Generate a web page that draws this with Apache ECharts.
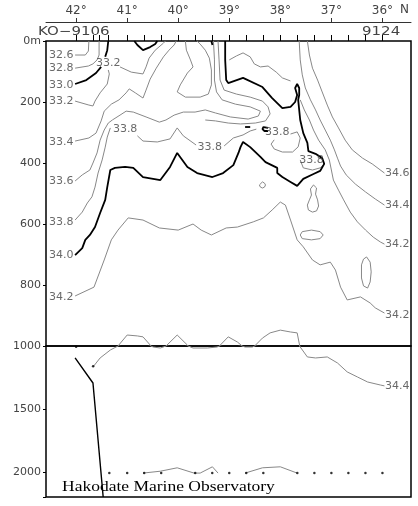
<!DOCTYPE html>
<html><head><meta charset="utf-8">
<script src="https://cdn.jsdelivr.net/npm/echarts@6/dist/echarts.min.js"></script>
<style>html,body{margin:0;padding:0;background:#fff}#c{width:418px;height:506px}</style>
</head><body><div id="c"></div>
<script>
// ---- axes ----
const latMin = 35.44, latMax = 42.59;
const degreeTicks = [42, 41, 40, 39, 38, 37, 36];
const stationLat = [42.0, 41.667, 41.55, 41.37, 41.0, 40.667, 40.333, 40.0, 39.667, 39.333, 39.0, 38.667, 38.333, 38.0, 37.667, 37.333, 37.0, 36.667, 36.333, 36.0];

// ---- contours [lat, depth m] ----
const s326 = [[42.02,46],[41.82,46],[41.76,33],[41.75,0]];
const s328 = [[42.02,89],[41.76,82],[41.67,75],[41.59,62],[41.55,46],[41.55,0]];
const s330a = [[42.02,141],[41.80,128],[41.61,105],[41.51,85]];
const s330b = [[41.43,52],[41.39,30],[41.37,0]];
const s330cap = [[40.86,0],[40.80,13],[40.69,30],[40.55,20],[40.45,10],[40.41,0]];
const s330dash = [[39.35,0],[39.33,13]];
const s332a = [[42.02,197],[41.75,210],[41.67,213],[41.63,197],[41.53,170],[41.39,141],[41.35,108],[41.37,95]];
const s332b = [[41.14,85],[40.92,102],[40.69,108],[40.63,85],[40.57,56],[40.45,30],[40.29,7],[40.25,0]];
const s334 = [[42.02,328],[41.75,318],[41.61,302],[41.51,262],[41.45,230],[41.31,207],[41.16,193],[41.02,170],[40.96,157],[40.84,170],[40.69,187],[40.63,161],[40.55,125],[40.43,89],[40.29,52],[40.18,30],[40.08,13],[40.04,0]];
const s336 = [[42.02,459],[41.88,439],[41.73,423],[41.67,400],[41.59,367],[41.53,325],[41.45,292],[41.37,269],[41.29,259],[41.14,243],[41.02,230],[40.88,233],[40.63,249],[40.37,266],[40.24,259],[40.08,243],[39.90,233],[39.67,233],[39.47,226],[39.27,236],[38.98,249],[38.63,256],[38.43,246],[38.39,230],[38.59,216],[38.88,207],[39.14,193],[39.25,167],[39.29,128],[39.29,62],[39.31,0]];
const sM1 = [[39.86,0],[39.84,30],[39.76,62],[39.71,85],[39.82,105],[39.96,144],[40.02,167],[39.86,184],[39.57,184],[39.41,174],[39.35,144],[39.35,95],[39.39,56],[39.47,30],[39.57,10],[39.63,0]];
const sBu1 = [[39.22,0],[39.20,62],[39.18,128],[39.10,161],[38.86,174],[38.59,184],[38.35,197],[38.24,216],[38.20,239],[38.29,262],[38.49,269],[38.78,272],[39.02,269],[39.27,262],[39.47,259]];
const sT2 = [[39.00,62],[38.86,49],[38.73,39],[38.59,52],[38.51,75],[38.39,85],[38.24,82],[38.08,102],[37.96,121],[37.80,131]];
const s338a = [[42.02,587],[41.88,561],[41.78,531],[41.69,511],[41.63,479],[41.57,433],[41.49,390],[41.43,348],[41.39,315],[41.33,285]];
const s338b = [[40.80,311],[40.69,328],[40.41,331],[40.16,321],[40.02,285],[39.90,311],[39.65,341]];
const s338c = [[39.10,344],[38.92,318],[38.73,308],[38.59,295],[38.47,289]];
const s338loop = [[37.80,305],[37.67,298],[37.61,318],[37.65,347],[37.76,364],[37.96,364],[38.12,354],[38.18,338],[38.12,324]];
const s338arc = [[37.61,390],[37.55,416],[37.37,423],[37.22,416],[37.16,407]];
const s340 = [[42.02,702],[41.88,679],[41.82,652],[41.73,636],[41.63,610],[41.53,564],[41.43,521],[41.39,479],[41.33,423],[41.24,416],[41.04,413],[40.88,416],[40.69,446],[40.35,456],[40.16,413],[40.02,367],[39.82,413],[39.63,433],[39.33,446],[39.12,433],[38.92,407],[38.82,367],[38.78,348],[38.73,331],[38.59,348],[38.39,380],[38.29,397],[38.06,416],[38.06,433],[37.96,446],[37.80,462],[37.67,475],[37.55,452],[37.35,436],[37.22,426],[37.14,403],[37.18,384],[37.31,370],[37.45,361],[37.47,334],[37.55,302],[37.61,259],[37.65,193],[37.63,177],[37.63,154],[37.67,141],[37.71,154],[37.67,177],[37.71,200],[37.80,216],[37.96,220],[38.16,187],[38.35,151],[38.73,121],[39.02,138],[39.06,128],[39.08,62],[39.08,0]];
const s340hook = [[38.24,285],[38.33,282],[38.35,289],[38.31,295],[38.24,295]];
const s340dash = [[38.69,282],[38.59,282]];
const s342L = [[42.02,836],[41.65,807],[41.45,718],[41.31,652],[41.18,620],[40.98,580],[40.69,587],[40.37,613],[40.00,620],[39.71,600],[39.55,620],[39.35,636],[39.06,613],[38.84,610],[38.53,593],[38.33,580],[38.16,554],[38.00,528],[37.90,538],[37.80,587],[37.67,652],[37.55,675],[37.37,718],[37.22,734],[37.02,725],[36.92,751],[36.82,807],[36.69,849],[36.43,839],[36.24,859],[36.14,875],[35.96,892]];
const s342R = [[37.61,193],[37.53,226],[37.43,259],[37.35,292],[37.25,325],[37.12,357],[37.04,390],[37.00,423],[36.96,456],[36.86,489],[36.76,521],[36.63,561],[36.49,593],[36.33,620],[36.18,643],[36.04,659],[35.96,666]];
const s344R = [[37.63,0],[37.61,62],[37.57,111],[37.51,154],[37.41,193],[37.31,226],[37.22,259],[37.12,292],[37.02,325],[36.94,357],[36.88,384],[36.82,410],[36.71,439],[36.53,469],[36.33,495],[36.14,518],[35.96,538]];
const s346R = [[37.47,0],[37.43,46],[37.37,89],[37.27,128],[37.18,167],[37.08,210],[36.98,249],[36.86,285],[36.73,325],[36.59,357],[36.39,384],[36.20,403],[35.96,433]];
const s344deep = [[41.67,1167],[41.53,1095],[41.33,1032],[41.18,1000],[41.00,964],[40.80,967],[40.69,970],[40.49,1008],[40.35,1016],[40.22,997],[40.02,964],[39.82,997],[39.71,1016],[39.43,1016],[39.24,1008],[39.02,970],[38.84,987],[38.69,1008],[38.55,1008],[38.35,974],[38.20,957],[38.00,948],[37.80,954],[37.67,957],[37.61,1008],[37.47,1087],[37.31,1095],[37.08,1087],[36.88,1135],[36.69,1206],[36.49,1246],[36.29,1286],[36.04,1310],[35.96,1317]];
const sCircle = [[38.29,472],[38.31,479],[38.35,482],[38.39,479],[38.41,472],[38.39,466],[38.35,462],[38.31,466],[38.29,472]];
const sPeanut = [[37.35,472],[37.29,482],[37.31,502],[37.27,521],[37.25,541],[37.29,557],[37.37,561],[37.45,554],[37.47,538],[37.43,521],[37.39,505],[37.41,485],[37.35,472]];
const sEllipse = [[37.16,636],[37.22,648],[37.39,652],[37.57,648],[37.61,636],[37.57,625],[37.39,620],[37.22,625],[37.16,636]];
const sElong = [[36.31,708],[36.24,725],[36.22,757],[36.24,790],[36.29,810],[36.37,803],[36.41,777],[36.41,734],[36.37,715],[36.31,708]];
const sBottom = [[42.02,1095],[41.67,1294],[41.47,2200]];
const sDeepA = [[40.69,2010],[40.35,1995],[40.02,1968],[39.69,2010],[39.57,2010],[39.33,1960],[39.22,2010]];
const sDeepB = [[38.69,2010],[38.35,1968],[38.00,1960],[37.67,2010]];
const deepDots = [[42.0,1005],[41.667,1160],[41.35,2010],[41.0,2010],[40.667,2010],[40.333,2010],[39.667,2010],[39.333,2010],[39.0,2010],[38.667,2010],[38.333,2010],[37.667,2010],[37.333,2010],[37.0,2010],[36.667,2010],[36.333,2010],[36.0,2010]];

// ---- contour labels [text, lat, depth] ----
const labelsUpper = [
  ['32.6',42.29,46],['32.8',42.29,89],['33.0',42.29,144],['33.2',42.29,197],['33.4',42.29,331],
  ['33.6',42.29,461],['33.8',42.29,593],['34.0',42.29,702],['34.2',42.29,839],
  ['33.2',41.37,72],['33.8',41.04,289],['33.8',39.38,349],['33.8',38.06,300],['33.8',37.39,390],
  ['34.6',35.71,433],['34.4',35.71,538],['34.2',35.71,666],['34.2',35.71,898]
];
const labelsLower = [['34.4',35.71,1317]];

const thinUpper = [s326,s328,s332a,s332b,s334,s336,sM1,sBu1,sT2,s338a,s338b,s338c,s338loop,s338arc,s342L,s342R,s344R,s346R,sCircle,sPeanut,sEllipse,sElong,s344deep];
const boldUpper = [s330a,s330b,s330cap,s330dash,s340,s340hook,s340dash];
const thinLower = [s344deep,sDeepA,sDeepB];

const FONT = '"DejaVu Sans", sans-serif';
const TXT = '#444';
const SCALE_OFFSET = 19;   // latitude scale line sits this far above the frame

function lineSeries(data, g, color, width) {
  return {type:'line', xAxisIndex:g, yAxisIndex:g, data:data, showSymbol:false, symbol:'none',
    clip:true, silent:true, animation:false, lineStyle:{color:color, width:width}, z: width > 1.2 ? 4 : 3};
}
function labelSeries(list, g) {
  return {type:'scatter', xAxisIndex:g, yAxisIndex:g, symbolSize:0, silent:true, animation:false, z:6,
    data: list.map(l => ({name:l[0], value:[l[1], l[2]]})),
    label:{show:true, position:'inside', formatter:'{b}', color:TXT, fontFamily:FONT, fontSize:11}};
}

const series = [];
thinUpper.forEach(d => series.push(lineSeries(d, 0, '#888', 1)));
boldUpper.forEach(d => series.push(lineSeries(d, 0, '#000', 1.8)));
thinLower.forEach(d => series.push(lineSeries(d, 1, '#888', 1)));
series.push(lineSeries(sBottom, 1, '#000', 1.4));
series.push({type:'scatter', xAxisIndex:1, yAxisIndex:1, data:deepDots, symbolSize:2.5, itemStyle:{color:'#000'}, silent:true, animation:false, z:5});
series.push(labelSeries(labelsUpper, 0));
series.push(labelSeries(labelsLower, 1));

const hiddenX = g => ({type:'value', gridIndex:g, inverse:true, min:latMin, max:latMax, show:false, axisLine:{onZero:false}});

const textGraphics = [
  {type:'text', left:38, top:26, scaleX:1.25, style:{text:'KO\u22129106', fill:TXT, font:'12px "DejaVu Sans"'}},
  {type:'text', left:362, top:26, scaleX:1.25, style:{text:'9124', fill:TXT, font:'12px "DejaVu Sans"'}},
  {type:'text', left:400, top:4, style:{text:'N', fill:TXT, font:'12px "DejaVu Sans"'}},
  {type:'text', left:62, top:480, scaleX:1.25, z:10, style:{text:'Hakodate Marine Observatory', fill:'#000', font:'14px "Liberation Serif"'}}
];

const option = {
  animation:false,
  backgroundColor:'#fff',
  grid:[
    {left:46, right:7, top:41, height:305, show:true, borderColor:'#000', borderWidth:1.5},
    {left:46, right:7, top:346, height:151, show:true, borderColor:'#000', borderWidth:1.5}
  ],
  xAxis:[
    hiddenX(0), hiddenX(1),
    {type:'value', gridIndex:0, position:'top', offset:SCALE_OFFSET, inverse:true, min:latMin, max:latMax,
      axisLine:{show:true, onZero:false, lineStyle:{color:'#333', width:1}},
      axisTick:{show:false},
      axisLabel:{show:true, customValues:degreeTicks, formatter:v => v + '°', margin:5, color:TXT, fontFamily:FONT, fontSize:12},
      splitLine:{show:false}}
  ],
  yAxis:[
    {type:'value', gridIndex:0, inverse:true, min:0, max:1000, interval:200,
      axisLine:{show:false, onZero:false}, axisTick:{show:true, length:3, lineStyle:{color:'#000'}},
      axisLabel:{formatter:v => v === 0 ? '0m' : (v >= 1000 ? '' : String(v)), margin:5, color:TXT, fontFamily:FONT, fontSize:11},
      splitLine:{show:false}},
    {type:'value', gridIndex:1, inverse:true, min:1000, max:2200, interval:500,
      axisLine:{show:false, onZero:false}, axisTick:{show:true, length:3, lineStyle:{color:'#000'}},
      axisLabel:{formatter:v => v > 2100 ? '' : String(v), margin:5, color:TXT, fontFamily:FONT, fontSize:11},
      splitLine:{show:false}}
  ],
  series:series
};
const chart = echarts.init(document.getElementById('c'));
chart.setOption(option);

// station ticks on the frame top and degree ticks on the latitude scale, placed through the axis scale
const topY = chart.convertToPixel({yAxisIndex:0}, 0);
const tickGraphics = [];
stationLat.forEach(lat => {
  const x = Math.round(chart.convertToPixel({xAxisIndex:0}, lat)) + 0.5;
  tickGraphics.push({type:'line', z:20, shape:{x1:x, y1:topY - 6, x2:x, y2:topY}, style:{stroke:'#000', lineWidth:1}});
});
degreeTicks.forEach(lat => {
  const x = Math.round(chart.convertToPixel({xAxisIndex:0}, lat)) + 0.5;
  const y0 = topY - SCALE_OFFSET;
  tickGraphics.push({type:'line', z:20, shape:{x1:x, y1:y0 - 4, x2:x, y2:y0}, style:{stroke:'#333', lineWidth:1}});
});
chart.setOption({graphic: tickGraphics.concat(textGraphics)});
</script></body></html>
